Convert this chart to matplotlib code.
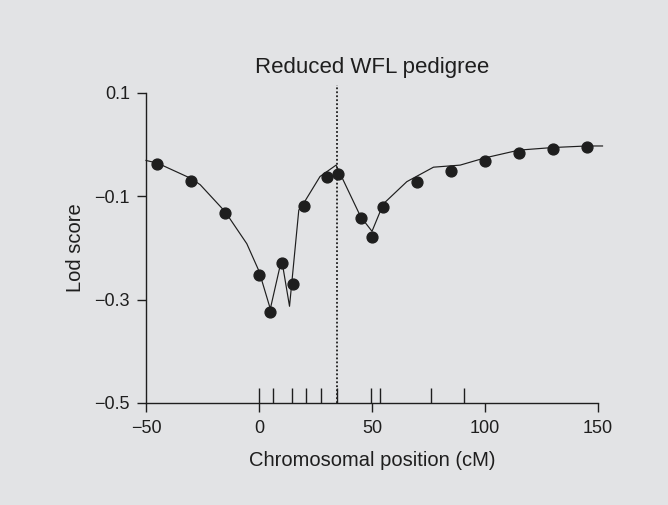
import matplotlib.pyplot as plt
import numpy as np

plt.rcParams['font.family'] = ['Liberation Sans', 'DejaVu Sans']

# observed lod scores (dots)
pt_x = [-45, -30, -15, 0, 5, 10, 15, 20, 30, 35, 45, 50, 55, 70, 85, 100, 115, 130, 145]
pt_y = [-0.038, -0.070, -0.132, -0.253, -0.325, -0.229, -0.270, -0.119, -0.063, -0.058,
        -0.142, -0.179, -0.121, -0.073, -0.052, -0.033, -0.016, -0.009, -0.005]

# expected curve (solid line)
line_x = [-50, -45, -30, -26, -15, -5.4, 0, 5, 10, 13.5, 17.6, 20, 27, 34.1,
          45, 50, 55, 65.4, 77.2, 89, 100, 115, 130, 145, 152]
line_y = [-0.031, -0.036, -0.066, -0.078, -0.130, -0.192, -0.245, -0.318, -0.222, -0.313,
          -0.127, -0.112, -0.062, -0.040, -0.140, -0.168, -0.115, -0.072, -0.044,
          -0.040, -0.026, -0.011, -0.006, -0.003, -0.003]

# marker positions (rug)
markers = [0, 6, 14.4, 20.6, 27.4, 34.3, 49.7, 53.7, 75.9, 90.6]
peak_pos = 34.3

bg = '#e2e3e5'
ink = '#1e1e1e'

fig = plt.figure(figsize=(6.68, 5.05), dpi=100, facecolor=bg)
ax = fig.add_axes([0.2186, 0.2020, 0.6766, 0.6144], facecolor=bg)

ax.plot(line_x, line_y, color=ink, lw=0.85, clip_on=False, zorder=2)
ax.plot(pt_x, pt_y, 'o', color=ink, ms=7.8, clip_on=False, zorder=3)
ax.vlines(markers, -0.5, -0.471, color=ink, lw=1.0)
ax.plot([peak_pos, peak_pos], [-0.5, 0.115], color=ink, lw=1.3,
        linestyle=(0, (1, 1.2)), clip_on=False)

ax.set_xlim(-50, 150)
ax.set_ylim(-0.5, 0.1)
ax.set_xticks([-50, 0, 50, 100, 150])
ax.set_xticklabels(['\u221250', '0', '50', '100', '150'])
ax.set_yticks([0.1, -0.1, -0.3, -0.5])
ax.set_yticklabels(['0.1', '\u22120.1', '\u22120.3', '\u22120.5'])

for s in ['top', 'right']:
    ax.spines[s].set_visible(False)
for s in ['left', 'bottom']:
    ax.spines[s].set_color(ink)
    ax.spines[s].set_linewidth(1.0)
ax.tick_params(direction='out', length=6.5, width=1.0, color=ink,
               labelsize=13, labelcolor=ink)
ax.tick_params(axis='x', pad=6)
ax.tick_params(axis='y', pad=5)

ax.set_xlabel('Chromosomal position (cM)', fontsize=14.5, color=ink, labelpad=10)
ax.set_ylabel('Lod score', fontsize=14.5, color=ink, labelpad=7)
ax.set_title('Reduced WFL pedigree', fontsize=16, color=ink, pad=14)

fig.savefig('out.png', dpi=100, facecolor=bg)
